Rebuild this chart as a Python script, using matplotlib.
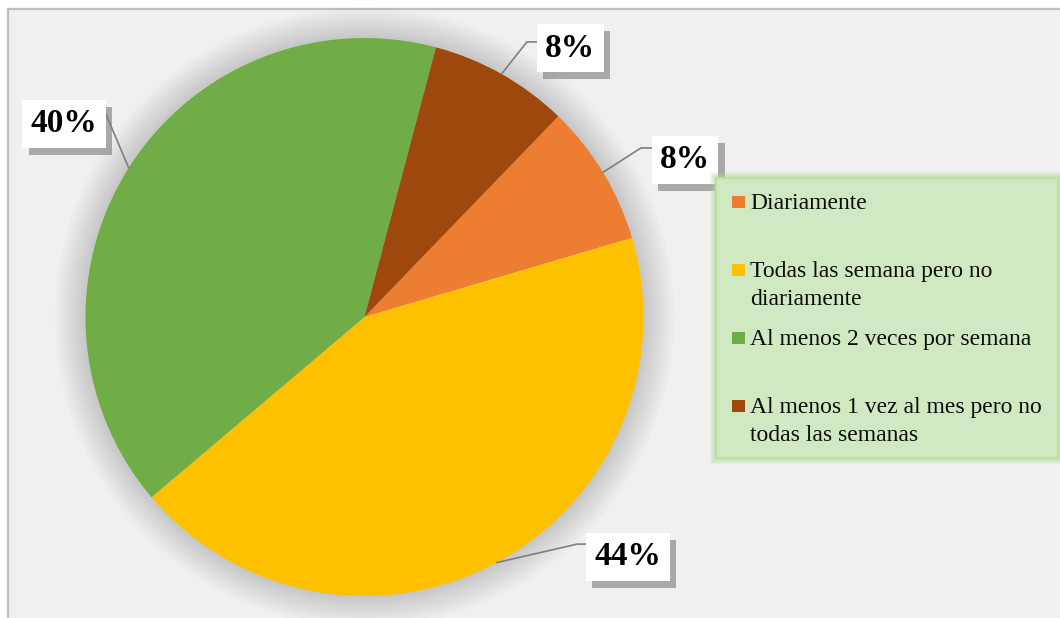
import matplotlib
matplotlib.use("Agg")
import numpy as np
import matplotlib.pyplot as plt
import matplotlib.patheffects as pe
from matplotlib.patches import Rectangle, Circle

# data
categories = ["Diariamente",
              "Todas las semana pero no\ndiariamente",
              "Al menos 2 veces por semana",
              "Al menos 1 vez al mes pero no\ntodas las semanas"]
shares = [8.2, 43.4, 40.3, 8.1]
pct_labels = ["8%", "44%", "40%", "8%"]
colors = ["#ED7D31", "#FFC000", "#70AD47", "#9E480E"]

# label box centres and leader elbows (pie radius = 1)
label_pos = [(1.149, 0.563), (0.944, -0.860), (-1.077, 0.692), (0.737, 0.964)]
leader_elbow = [[(0.991, 0.606), (1.034, 0.606)],
                [(0.762, -0.814), (0.801, -0.814)],
                [(-0.930, 0.735)],
                [(0.582, 0.986), (0.618, 0.986)]]

plt.rcParams["font.family"] = ["Liberation Serif", "DejaVu Serif"]

W, H = 1060, 618
cx, cy, R = 364.5, 301, 279  # pie centre (px from left / bottom) and radius
fig = plt.figure(figsize=(W / 100, H / 100), dpi=100, facecolor="white")

# chart area
fig.patches.append(Rectangle((8 / W, -0.1), 1.0, 1 - 9 / H + 0.1, transform=fig.transFigure,
                             facecolor="#f0f0f0", edgecolor="#bfbfbf", linewidth=1.6, zorder=-5))

ax = fig.add_axes([0, 0, 1, 1])
ax.patch.set_alpha(0)

# soft shadow around the pie
for k in range(1, 11):
    ax.add_patch(Circle((0, 0), 1 + k * 0.011, facecolor="black", alpha=0.017, lw=0, zorder=0))

wedges, _ = ax.pie(shares, colors=colors, startangle=46, counterclock=False, radius=1,
                   wedgeprops=dict(linewidth=0))
ax.set_xlim(-cx / R, (W - cx) / R)
ax.set_ylim(-cy / R, (H - cy) / R)
ax.set_aspect("auto")
ax.axis("off")

for w, lab, pos, elb in zip(wedges, pct_labels, label_pos, leader_elbow):
    mid = np.deg2rad((w.theta1 + w.theta2) / 2)
    pts = [(np.cos(mid), np.sin(mid))] + elb
    ax.plot([p[0] for p in pts], [p[1] for p in pts], color="#808080", lw=1.2, zorder=3,
            clip_on=False)
    t = ax.text(pos[0], pos[1], lab, ha="center", va="center", fontsize=24, fontweight="bold",
                color="black", zorder=5,
                bbox=dict(boxstyle="square,pad=0.25", facecolor="white", edgecolor="none"))
    t.get_bbox_patch().set_path_effects([
        pe.SimplePatchShadow(offset=(4.5, -5), shadow_rgbFace="#7a7a7a", alpha=0.6),
        pe.Normal()])

# legend box drawn like the original (equal slots per entry)
lx0, ly0, lx1, ly1 = 716, 178, 1058, 458
for k in range(1, 6):
    fig.patches.append(Rectangle(((lx0 - k) / W, 1 - (ly1 + k) / H), (lx1 - lx0 + 2 * k) / W,
                                 (ly1 - ly0 + 2 * k) / H, transform=fig.transFigure,
                                 facecolor="none", edgecolor="#a9d98a", alpha=0.35 - k * 0.05,
                                 linewidth=1.5, zorder=1))
fig.patches.append(Rectangle((lx0 / W, 1 - ly1 / H), (lx1 - lx0) / W, (ly1 - ly0) / H,
                             transform=fig.transFigure, facecolor="#d1e9c2",
                             edgecolor="#b9e0a0", linewidth=1.5, zorder=1))
for i, (cat, col) in enumerate(zip(categories, colors)):
    base = 209 + i * 68
    fig.patches.append(Rectangle((732 / W, 1 - (base - 1) / H), 13 / W, 12 / H,
                                 transform=fig.transFigure, facecolor=col, edgecolor="none",
                                 zorder=2))
    for j, line in enumerate(cat.split("\n")):
        fig.text(750 / W, 1 - (base + j * 28) / H, line, ha="left", va="baseline",
                 fontsize=17, color="#0d0d0d", zorder=3)

fig.savefig("out.png", dpi=100, facecolor="white")
